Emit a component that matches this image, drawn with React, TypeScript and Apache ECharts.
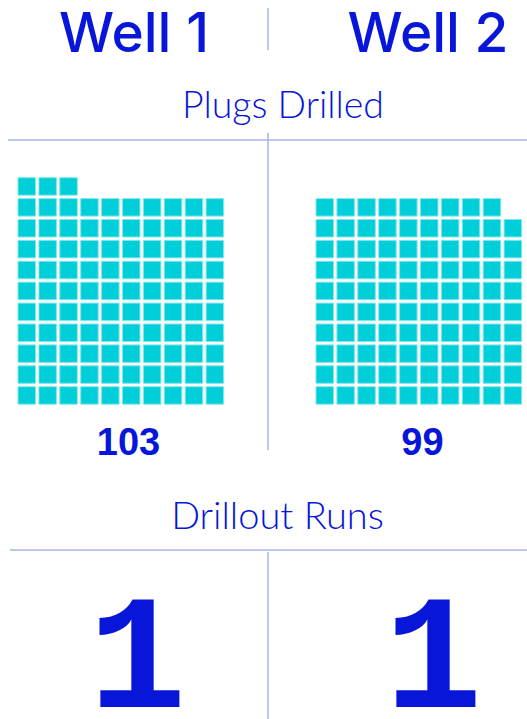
import React, { useEffect, useRef } from "react";
import * as echarts from "echarts";

const wells = ["Well 1", "Well 2"];
const plugsDrilled = [103, 99];
const drilloutRuns = [1, 1];
const cellsPerRow = 10;
const sectionTitles = ["Plugs Drilled", "Drillout Runs"];

const BLUE = "#0716D9";
const LINE = "#A7B5E6";
const CYAN = "#00CFD9";

function cells(n: number) {
  const out: number[][] = [];
  for (let i = 0; i < n; i++) out.push([i % cellsPerRow, Math.floor(i / cellsPerRow)]);
  return out;
}

function txt(x: number, y: number, text: string, family: string, size: number, weight: any, lh?: number) {
  return {
    type: "text",
    x,
    y,
    style: {
      text,
      fill: BLUE,
      fontFamily: family,
      fontSize: size,
      fontWeight: weight,
      lineHeight: lh ?? size,
      align: "center",
      verticalAlign: "middle",
    },
  };
}

export default function App() {
  const ref = useRef<HTMLDivElement>(null);
  useEffect(() => {
    if (!ref.current) return;
    const chart = echarts.init(ref.current, undefined, { renderer: "svg" });
    const maxRows = Math.ceil(Math.max(...plugsDrilled) / cellsPerRow);
    const gridLefts = [16.3, 314.3];
    const titleX = [134, 428];
    const numX = [128.5, 422.5];
    const bigX = [137.5, 433.5];
    const graphic: any[] = [
      { type: "line", shape: { x1: 8, y1: 140, x2: 527, y2: 140 }, style: { stroke: LINE, lineWidth: 1.5 } },
      { type: "line", shape: { x1: 10, y1: 550, x2: 527, y2: 550 }, style: { stroke: LINE, lineWidth: 1.5 } },
      { type: "line", shape: { x1: 268, y1: 8, x2: 268, y2: 50 }, style: { stroke: LINE, lineWidth: 1.5 } },
      { type: "line", shape: { x1: 268, y1: 133, x2: 268, y2: 450 }, style: { stroke: LINE, lineWidth: 1.5 } },
      { type: "line", shape: { x1: 268, y1: 552, x2: 268, y2: 719 }, style: { stroke: LINE, lineWidth: 1.5 } },
      txt(283, 103.5, sectionTitles[0], "Lato", 37.5, 300),
      txt(277.5, 514, sectionTitles[1], "Lato", 38, 300),
    ];
    wells.forEach((w, i) => {
      graphic.push(txt(titleX[i], 32, w, "Inter", 55, 450, 44));
      graphic.push(txt(numX[i], 441.5, String(plugsDrilled[i]), "Liberation Sans", 38, "bold"));
      graphic.push(txt(bigX[i], 663, String(drilloutRuns[i]), "'Liberation Mono', 'DejaVu Sans Mono', monospace", 163, "bold", 108));
    });
    chart.setOption({
      animation: false,
      backgroundColor: "#ffffff",
      grid: gridLefts.map((l) => ({ left: l, width: 209, top: 176, height: 20.9 * maxRows, containLabel: false })),
      xAxis: gridLefts.map((_, i) => ({ type: "value", gridIndex: i, min: -0.5, max: cellsPerRow - 0.5, show: false })),
      yAxis: gridLefts.map((_, i) => ({ type: "value", gridIndex: i, min: -0.5, max: maxRows - 0.5, show: false })),
      series: plugsDrilled.map((n, i) => ({
        type: "scatter",
        xAxisIndex: i,
        yAxisIndex: i,
        symbol: "rect",
        symbolSize: 17.5,
        itemStyle: { color: CYAN, borderColor: "#7FE6EA", borderWidth: 1, opacity: 1 },
        data: cells(n),
        silent: true,
      })),
      graphic,
    });
    return () => chart.dispose();
  }, []);
  return <div ref={ref} style={{ position: "fixed", left: 0, top: 0, width: 527, height: 719 }} />;
}
